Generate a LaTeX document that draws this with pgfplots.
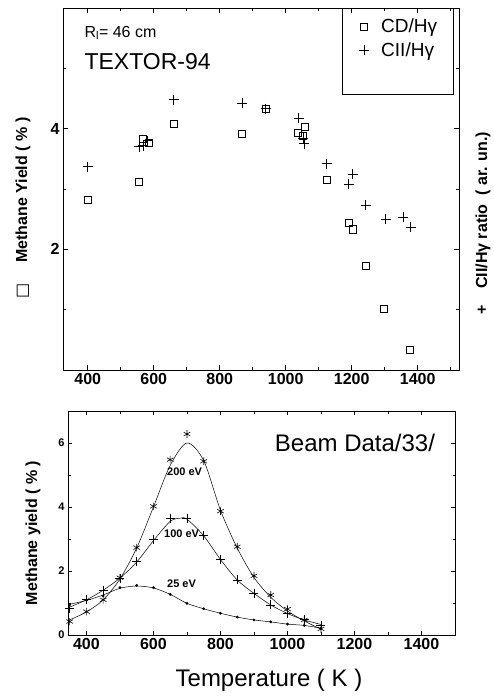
\documentclass[border=0pt]{standalone}
\usepackage{pgfplots}
\pgfplotsset{compat=1.18}
\usepackage{fontspec}
\setmainfont{Liberation Sans}
\newfontfamily\dejavu{DejaVu Sans}
\begin{document}
\begin{tikzpicture}
\useasboundingbox (0pt,0pt) rectangle (494pt,696pt);
% ---------------- top panel ----------------
\begin{axis}[at={(63pt,326pt)}, anchor=south west, scale only axis,
 width=396pt, height=362pt,
 xmin=325, xmax=1525, ymin=0, ymax=6,
 xtick={400,600,...,1400}, minor xtick={500,700,...,1500},
 ytick={2,4}, minor ytick={1,3,5},
 tick align=inside, major tick length=5pt, minor tick length=3pt,
 tick style={black, line width=0.6pt},
 axis line style={line width=0.8pt},
 ticklabel style={font=\fontsize{16}{18}\selectfont\bfseries},
 /pgf/number format/assume math mode=true,
 /pgf/number format/1000 sep={},
 clip=false,
 legend style={draw=none, fill=none, at={(axis description cs:0.745,0.978)}, anchor=north west,
   font=\fontsize{19}{22}\selectfont, row sep=4pt, inner sep=1pt,
   /tikz/every odd column/.append style={column sep=10pt}},
 legend cell align=left,
]
\addplot[only marks, mark=square, mark size=3.6pt, mark options={line width=0.7pt}] coordinates {
(400,2.82) (555,3.12) (567,3.83) (585,3.77) (660,4.08) (867,3.92) (939,4.33)
(1036,3.93) (1052,3.88) (1058,4.03) (1124,3.15) (1191,2.44) (1203,2.33)
(1242,1.73) (1297,1.02) (1376,0.33)};
\addlegendentry{CD/Hγ}
\addplot[only marks, mark=+, mark size=5pt, mark options={line width=0.7pt}] coordinates {
(400,3.37) (555,3.70) (568,3.72) (582,3.80) (660,4.48) (867,4.42) (939,4.33)
(1039,4.17) (1052,3.84) (1055,3.75) (1124,3.42) (1191,3.08) (1203,3.25)
(1242,2.73) (1303,2.50) (1355,2.53) (1379,2.37)};
\addlegendentry{CII/Hγ}
\draw[line width=0.6pt] (axis description cs:0.705,1) rectangle (axis description cs:0.985,0.762);
\end{axis}
\node[anchor=west, font=\fontsize{16}{18}\selectfont] at (81pt,663pt) {R\textsubscript{l}= 46 cm};
\node[anchor=west, font=\fontsize{23}{26}\selectfont] at (81pt,634pt) {TEXTOR-94};
\node[rotate=90, font=\fontsize{16}{18}\selectfont\bfseries] at (23pt,488pt) {{\dejavu\mdseries □}\quad\ Methane Yield ( \% )};
\node[rotate=90, font=\fontsize{16}{18}\selectfont\bfseries] at (483pt,473pt) {+\quad CII/Hγ ratio \ ( ar. un.)};
% ---------------- bottom panel ----------------
\begin{axis}[at={(68pt,61pt)}, anchor=south west, scale only axis,
 width=387pt, height=224pt,
 xmin=345, xmax=1500, ymin=0, ymax=7,
 xtick={400,600,...,1400}, minor xtick={500,700,...,1500},
 ytick={0,2,4,6}, minor ytick={1,3,5},
 tick align=inside, major tick length=4pt, minor tick length=2.5pt,
 tick style={black, line width=0.5pt},
 axis line style={line width=0.6pt},
 xticklabel style={font=\fontsize{16}{18}\selectfont\bfseries},
 yticklabel style={font=\fontsize{11}{13}\selectfont\bfseries},
 /pgf/number format/assume math mode=true,
 /pgf/number format/1000 sep={},
]
% 200 eV
\addplot[smooth, line width=0.5pt] coordinates {
(345,0.45) (400,0.72) (450,1.1) (500,1.75) (550,2.72) (600,4.0) (650,5.3) (700,6.0)
(750,5.45) (800,3.9) (850,2.72) (900,1.8) (950,1.18) (1000,0.75) (1050,0.44) (1100,0.18)};
\addplot[only marks, mark=asterisk, mark size=3.8pt, mark options={line width=0.6pt}] coordinates {
(350,0.42) (400,0.73) (450,1.1) (500,1.79) (550,2.73) (600,4.02) (650,5.48) (700,6.28)
(750,5.43) (800,3.87) (850,2.76) (900,1.85) (950,1.25) (1000,0.81) (1050,0.47) (1100,0.19)};
% 100 eV
\addplot[smooth, line width=0.5pt] coordinates {
(345,0.85) (400,1.1) (450,1.4) (500,1.78) (550,2.28) (600,2.95) (650,3.55) (680,3.65) (700,3.62)
(750,3.1) (800,2.36) (850,1.72) (900,1.3) (950,0.94) (1000,0.67) (1050,0.47) (1100,0.33)};
\addplot[only marks, mark=+, mark size=4.5pt, mark options={line width=0.6pt}] coordinates {
(350,0.84) (400,1.12) (450,1.39) (500,1.78) (550,2.29) (600,2.98) (650,3.65) (700,3.65)
(750,3.12) (800,2.36) (850,1.72) (900,1.31) (950,0.94) (1000,0.68) (1050,0.48) (1100,0.30)};
% 25 eV
\addplot[smooth, line width=0.5pt] coordinates {
(345,0.95) (400,1.08) (450,1.25) (500,1.46) (550,1.53) (600,1.47) (650,1.27) (700,0.99)
(750,0.82) (800,0.68) (850,0.56) (900,0.47) (950,0.41) (1000,0.34) (1050,0.30) (1100,0.21)};
\addplot[only marks, mark=*, mark size=1.2pt] coordinates {
(350,0.95) (400,1.08) (450,1.22) (500,1.48) (550,1.55) (600,1.48) (650,1.27) (700,0.99)
(750,0.82) (800,0.68) (850,0.56) (900,0.47) (950,0.41) (1000,0.34) (1050,0.30) (1100,0.21)};
\node[font=\fontsize{11}{13}\selectfont\bfseries] at (axis cs:693,5.09) {200 eV};
\node[font=\fontsize{11}{13}\selectfont\bfseries] at (axis cs:684,3.17) {100 eV};
\node[font=\fontsize{11}{13}\selectfont\bfseries] at (axis cs:684,1.61) {25 eV};
\end{axis}
\node[font=\fontsize{24}{27}\selectfont] at (355pt,253pt) {Beam Data/33/};
\node[font=\fontsize{24}{27}\selectfont] at (269pt,16pt) {Temperature ( K )};
\node[rotate=90, font=\fontsize{16}{18}\selectfont\bfseries] at (33pt,163pt) {Methane yield ( \% )};
\end{tikzpicture}
\end{document}
